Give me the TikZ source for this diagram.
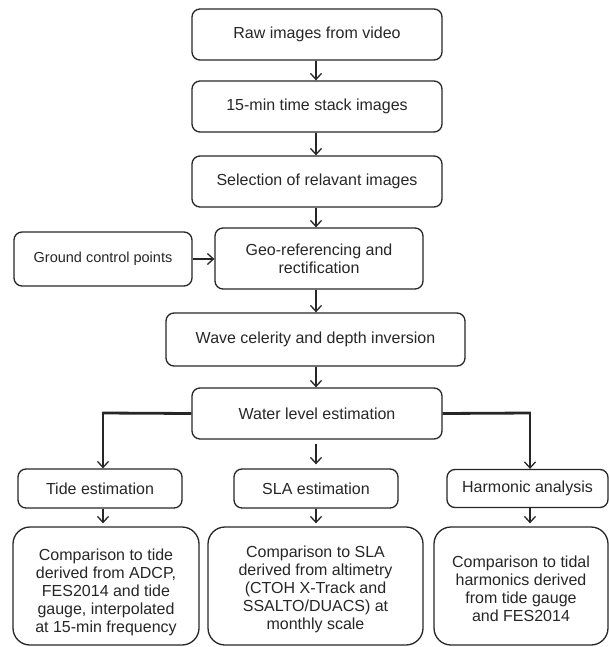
\documentclass[tikz,border=0pt]{standalone}
\usepackage{fontspec}
\setmainfont{Liberation Sans}
\usetikzlibrary{arrows.meta}
\definecolor{ink}{HTML}{262626}
\tikzset{
  box/.style={draw=ink, line width=1.3pt, rounded corners=8pt, inner sep=0pt, align=center,
    text=ink, font=\fontsize{16}{18}\selectfont},
  bigbox/.style={draw=ink, line width=1.3pt, rounded corners=17pt, inner sep=0pt},
  bigtext/.style={inner sep=0pt, align=center, text=ink, font=\fontsize{16}{18}\selectfont},
  arr/.style={draw=ink, line width=1.3pt, -{Straight Barb[length=6pt,width=11pt,line width=1.3pt]}},
  branch/.style={draw=ink, line width=2.8pt}
}
\begin{document}
\begin{tikzpicture}[x=1pt,y=-1pt]
\useasboundingbox (0,0) rectangle (609,647);
\node[box, minimum width=250pt, minimum height=51pt] (b1) at (317,34.5) {Raw images from video};
\node[box, minimum width=250pt, minimum height=51pt] (b2) at (317,106.5) {15-min time stack images};
\node[box, minimum width=250pt, minimum height=51pt] (b3) at (317,181.5) {Selection of relavant images};
\node[box, minimum width=208pt, minimum height=61pt] (geo) at (319,258.5) {Geo-referencing and\\rectification};
\node[box, minimum width=178pt, minimum height=54pt, font=\fontsize{14.5}{17}\selectfont] (gcp) at (103,259) {Ground control points};
\node[box, minimum width=299pt, minimum height=53pt] (wave) at (315.5,339.5) {Wave celerity and depth inversion};
\node[box, minimum width=250pt, minimum height=51pt] (water) at (317,413.5) {Water level estimation};
\node[box, minimum width=164pt, minimum height=39pt] (tide) at (100,488.5) {Tide estimation};
\node[box, minimum width=164pt, minimum height=39pt] (sla) at (316,488.5) {SLA estimation};
\node[box, minimum width=161pt, minimum height=38pt] (harm) at (527.5,488.5) {Harmonic analysis};
\node[bigbox, minimum width=186pt, minimum height=118pt] (c1) at (106,586) {};
\node[bigbox, minimum width=215pt, minimum height=118pt] (c2) at (315.5,586) {};
\node[bigbox, minimum width=174pt, minimum height=118pt] (c3) at (521,586) {};
\node[bigtext] (c1t) at ([yshift=-6pt]c1.center)
  {Comparison to tide\\derived from ADCP,\\FES2014 and tide\\gauge, interpolated\\at 15-min frequency};
\node[bigtext] (c2t) at ([yshift=-3pt]c2.center)
  {Comparison to SLA\\derived from altimetry\\(CTOH X-Track and\\SSALTO/DUACS) at\\monthly scale};
\node[bigtext] (c3t) at ([yshift=-3pt]c3.center)
  {Comparison to tidal\\harmonics derived\\from tide gauge\\and FES2014};
% vertical arrows
\coordinate (mx) at (316,0);
\draw[arr] (b1.south -| mx) -- (b2.north -| mx);
\draw[arr] (b2.south -| mx) -- (b3.north -| mx);
\draw[arr] (b3.south -| mx) -- (geo.north -| mx);
\draw[arr] (gcp.east) -- (geo.west |- gcp.east);
\draw[arr] (geo.south -| mx) -- (wave.north -| mx);
\draw[arr] (wave.south -| mx) -- (water.north -| mx);
\draw[arr, shorten <=4pt, shorten >=4pt] (water.south -| mx) -- (sla.north -| mx);
% branches
\coordinate (L) at (103,413);
\coordinate (R) at (530,413);
\draw[branch] (water.west) -- ([xshift=-0.6pt]L);
\draw[branch] (water.east) -- ([xshift=0.6pt]R);
\draw[arr] ([yshift=1.2pt]L) -- (L |- tide.north);
\draw[arr] ([yshift=1.2pt]R) -- (R |- harm.north);
% to comparisons
\draw[arr, shorten >=3pt] (tide.south -| L) -- (c1.north -| L);
\draw[arr, shorten >=3pt] (sla.south -| mx) -- (c2.north -| mx);
\draw[arr, shorten >=3pt] (harm.south -| R) -- (c3.north -| R);
\end{tikzpicture}
\end{document}
